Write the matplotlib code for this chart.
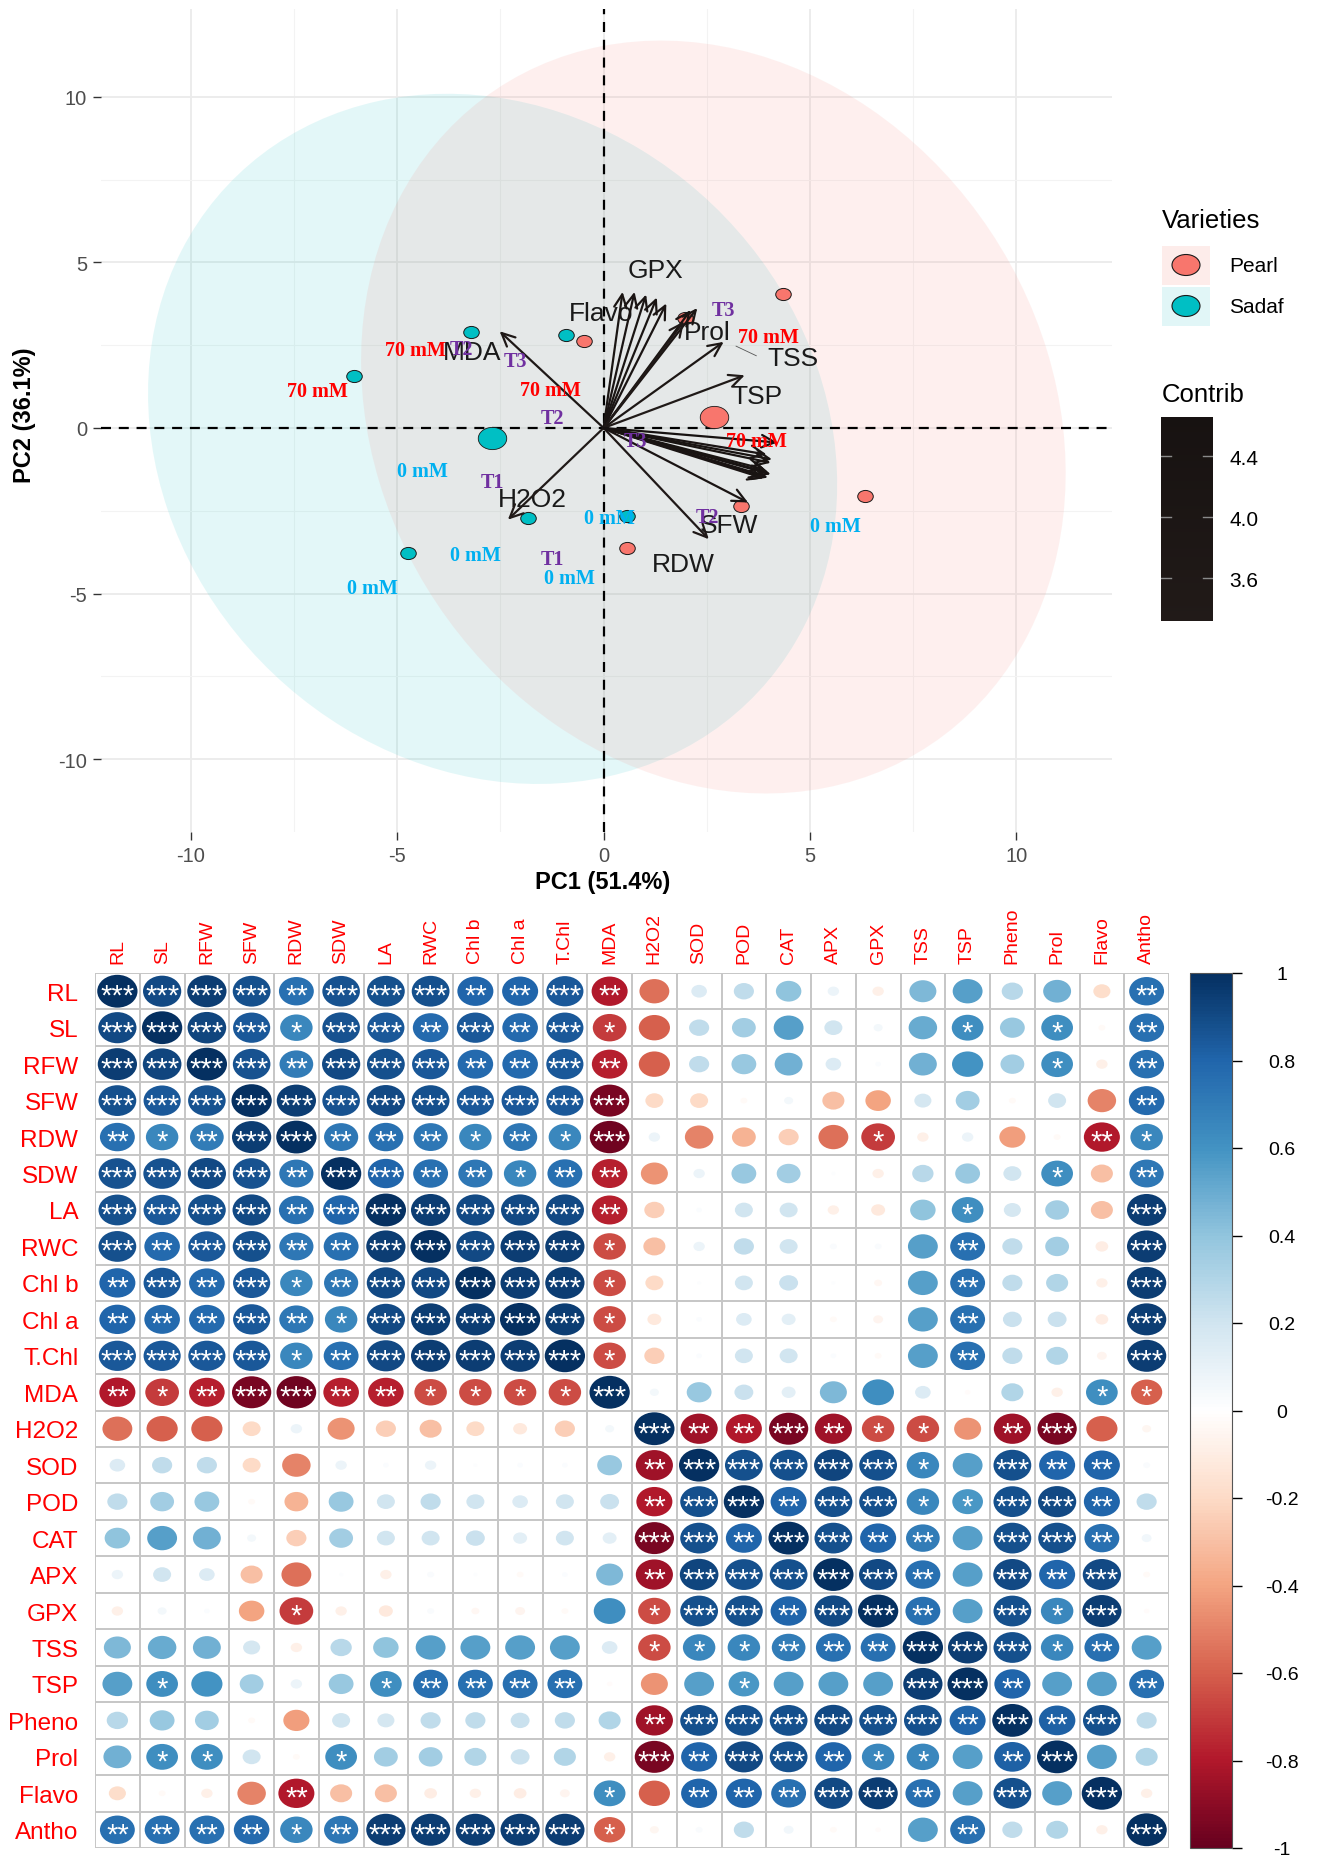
import numpy as np
import matplotlib
matplotlib.use('Agg')
import matplotlib.pyplot as plt
from matplotlib.patches import Ellipse, Rectangle
from matplotlib.path import Path
from matplotlib.markers import MarkerStyle
from matplotlib.colors import LinearSegmentedColormap, Normalize
from matplotlib.cm import ScalarMappable
import matplotlib.transforms as mtransforms

plt.rcParams['font.family'] = ['Liberation Sans', 'DejaVu Sans']
plt.rcParams['axes.unicode_minus'] = False

W, H = 1320, 1858

# ---------------- PCA biplot data ----------------
sadaf_x = [-6.06, -3.21, -0.90, -1.83, -4.73, 0.57]
sadaf_y = [1.56, 2.89, 2.82, -2.73, -3.79, -2.65]
pearl_x = [4.35, -0.47, 1.98, 6.33, 3.32, 0.56]
pearl_y = [4.03, 2.63, 3.31, -2.06, -2.37, -3.61]

# confidence ellipses: centre x, centre y, width, height, angle
ell_sadaf = [-2.69, -0.33, 16.32, 21.14, 15.3]
ell_pearl = [2.66, 0.33, 16.66, 23.04, 13.6]

pca_vars = ["RL", "SL", "RFW", "SFW", "RDW", "SDW", "LA", "RWC", "Chl b", "Chl a",
            "T.Chl", "MDA", "H2O2", "SOD", "POD", "CAT", "APX", "GPX", "TSS", "TSP",
            "Pheno", "Prol", "Flavo", "Antho"]
load_x = [4.05, 3.95, 4.08, 3.50, 2.55, 3.90, 4.05, 3.98, 3.88, 3.92,
          4.00, -2.52, -2.32, 1.29, 1.52, 1.03, 0.75, 0.46, 2.91, 3.42,
          2.11, 2.27, 1.95, 4.21]
load_y = [-1.05, -0.80, -0.95, -2.25, -3.36, -1.25, -1.40, -1.50, -1.52, -1.45,
          -1.35, 2.92, -2.77, 3.94, 3.76, 4.03, 4.11, 4.11, 2.60, 1.59,
          3.56, 3.62, 3.22, -0.44]
contrib = [4.4, 4.1, 4.4, 4.3, 3.6, 4.2, 4.5, 4.5, 4.3, 4.3,
           4.4, 3.7, 3.3, 4.2, 4.3, 4.2, 4.3, 4.2, 3.9, 3.4,
           4.4, 4.0, 3.5, 4.6]

var_lab = ['GPX', 'Flavo', 'Prol', 'TSS', 'TSP', 'MDA', 'H2O2', 'SFW', 'RDW']
var_lab_x = [1.26, -0.07, 2.52, 4.58, 3.72, -3.18, -1.73, 3.04, 1.93]
var_lab_y = [4.77, 3.46, 2.91, 2.10, 0.95, 2.28, -2.15, -2.92, -4.11]

red_x = [-6.94, -4.57, -1.29, 3.99, 3.70]
red_y = [1.11, 2.35, 1.14, 2.75, -0.40]
blue_x = [-4.40, -3.11, -5.60, -0.83, 0.15, 5.63]
blue_y = [-1.31, -3.83, -4.83, -4.53, -2.73, -2.95]
trt_lab = ['T2', 'T3', 'T2', 'T1', 'T1', 'T3', 'T3', 'T2']
trt_x = [-3.45, -2.14, -1.24, -2.70, -1.23, 0.77, 2.90, 2.52]
trt_y = [2.38, 2.01, 0.29, -1.64, -3.96, -0.40, 3.56, -2.70]

# ---------------- correlation data ----------------
corr_vars = ["RL", "SL", "RFW", "SFW", "RDW", "SDW", "LA", "RWC", "Chl b", "Chl a",
             "T.Chl", "MDA", "H2O2", "SOD", "POD", "CAT", "APX", "GPX", "TSS", "TSP",
             "Pheno", "Prol", "Flavo", "Antho"]
corr_lower = [
    [.90],
    [.95, .92],
    [.88, .85, .87],
    [.75, .65, .70, .95],
    [.87, .87, .90, .87, .72],
    [.88, .85, .88, .90, .75, .80],
    [.88, .78, .85, .88, .72, .75, .95],
    [.80, .85, .78, .85, .65, .72, .90, .90],
    [.80, .78, .78, .85, .72, .65, .90, .95, .95],
    [.85, .85, .85, .85, .65, .75, .90, .95, .95, .95],
    [-.80, -.70, -.78, -.95, -.97, -.78, -.78, -.65, -.65, -.65, -.65],
    [-.55, -.60, -.60, -.20, .08, -.45, -.25, -.30, -.20, -.12, -.25, .05],
    [.15, .25, .25, -.20, -.50, .08, .02, .08, .01, .02, .02, .38, -.85],
    [.25, .35, .38, -.03, -.35, .38, .20, .25, .20, .15, .20, .22, -.80, .88],
    [.40, .55, .48, .05, -.25, .35, .20, .20, .22, .12, .20, .12, -.95, .88, .80],
    [.08, .20, .15, -.30, -.55, .01, -.08, .03, .01, -.03, .02, .45, -.85, .92, .88, .88],
    [-.08, .05, .02, -.40, -.70, -.08, -.12, .03, -.04, -.06, -.03, .62, -.65, .88, .88, .80, .90],
    [.45, .50, .48, .18, -.08, .28, .40, .55, .55, .55, .55, .15, -.65, .65, .65, .70, .75, .75],
    [.55, .62, .60, .35, .08, .38, .62, .75, .75, .75, .75, -.02, -.45, .55, .58, .55, .55, .55, .95],
    [.28, .38, .35, -.03, -.42, .20, .18, .25, .25, .22, .25, .30, -.85, .88, .88, .88, .90, .88, .88, .80],
    [.48, .62, .62, .20, -.03, .62, .35, .35, .30, .22, .30, -.08, -.95, .80, .90, .88, .80, .65, .65, .55, .82],
    [-.18, -.03, -.08, -.50, -.80, -.30, -.30, -.10, -.08, -.10, -.06, .62, -.60, .80, .80, .75, .90, .95, .75, .55, .88, .55],
    [.75, .75, .75, .78, .65, .72, .95, .95, .95, .95, .95, -.60, -.05, .03, .25, .06, -.03, -.02, .55, .75, .25, .30, -.08],
]
stars_lower = [
    [3],
    [3, 3],
    [3, 3, 3],
    [2, 1, 2, 3],
    [3, 3, 3, 3, 2],
    [3, 3, 3, 3, 2, 3],
    [3, 2, 3, 3, 2, 2, 3],
    [2, 3, 2, 3, 1, 2, 3, 3],
    [2, 2, 2, 3, 2, 1, 3, 3, 3],
    [3, 3, 3, 3, 1, 2, 3, 3, 3, 3],
    [2, 1, 2, 3, 3, 2, 2, 1, 1, 1, 1],
    [0, 0, 0, 0, 0, 0, 0, 0, 0, 0, 0, 0],
    [0, 0, 0, 0, 0, 0, 0, 0, 0, 0, 0, 0, 2],
    [0, 0, 0, 0, 0, 0, 0, 0, 0, 0, 0, 0, 2, 3],
    [0, 0, 0, 0, 0, 0, 0, 0, 0, 0, 0, 0, 3, 3, 2],
    [0, 0, 0, 0, 0, 0, 0, 0, 0, 0, 0, 0, 2, 3, 3, 3],
    [0, 0, 0, 0, 1, 0, 0, 0, 0, 0, 0, 0, 1, 3, 3, 2, 3],
    [0, 0, 0, 0, 0, 0, 0, 0, 0, 0, 0, 0, 1, 1, 1, 2, 2, 2],
    [0, 1, 0, 0, 0, 0, 1, 2, 2, 2, 2, 0, 0, 0, 1, 0, 0, 0, 3],
    [0, 0, 0, 0, 0, 0, 0, 0, 0, 0, 0, 0, 2, 3, 3, 3, 3, 3, 3, 2],
    [0, 1, 1, 0, 0, 1, 0, 0, 0, 0, 0, 0, 3, 2, 3, 3, 2, 1, 1, 0, 2],
    [0, 0, 0, 0, 2, 0, 0, 0, 0, 0, 0, 1, 0, 2, 2, 2, 3, 3, 2, 0, 3, 0],
    [2, 2, 2, 2, 1, 2, 3, 3, 3, 3, 3, 1, 0, 0, 0, 0, 0, 0, 0, 2, 0, 0, 0],
]
cbar_ticks = [-1, -0.8, -0.6, -0.4, -0.2, 0, 0.2, 0.4, 0.6, 0.8, 1]
cbar_labels = ['-1', '-0.8', '-0.6', '-0.4', '-0.2', '0', '0.2', '0.4', '0.6', '0.8', '1']

# ---------------- figure ----------------
fig = plt.figure(figsize=(W / 100, H / 100), dpi=100)

def px_axes(x0, y0, x1, y1):
    return fig.add_axes([x0 / W, 1 - y1 / H, (x1 - x0) / W, (y1 - y0) / H])

# ---- biplot ----
ax = px_axes(101, 10, 1112, 833)
ax.set_xlim(-12.18, 12.32)
ax.set_ylim(-12.2, 12.65)
ax.set_xticks([-10, -5, 0, 5, 10])
ax.set_yticks([-10, -5, 0, 5, 10])
ax.set_xticks([-7.5, -2.5, 2.5, 7.5], minor=True)
ax.set_yticks([-7.5, -2.5, 2.5, 7.5], minor=True)
ax.grid(which='major', color='#EBEBEB', lw=1.3)
ax.grid(which='minor', color='#F3F3F3', lw=0.8)
ax.set_axisbelow(True)
for s in ax.spines.values():
    s.set_visible(False)
ax.tick_params(which='major', length=6, width=1.0, color='#333333',
               labelcolor='#4D4D4D', labelsize=14.5, pad=4)
ax.tick_params(which='minor', length=0)

for e, col in [(ell_sadaf, '#00BFC4'), (ell_pearl, '#F8766D')]:
    ax.add_patch(Ellipse((e[0], e[1]), e[2], e[3], angle=e[4],
                         facecolor=col, alpha=0.11, edgecolor='none', zorder=1))

ax.axhline(0, color='black', lw=1.6, ls=(0, (4.5, 3.5)), zorder=2)
ax.axvline(0, color='black', lw=1.6, ls=(0, (4.5, 3.5)), zorder=2)

circ = Path.unit_circle()
oval = MarkerStyle(Path(circ.vertices * np.array([1.28, 1.0]), circ.codes))
ax.scatter(sadaf_x, sadaf_y, s=125, marker=oval, c='#00BFC4', edgecolors='#1a1a1a',
           linewidths=0.7, zorder=3)
ax.scatter(pearl_x, pearl_y, s=125, marker=oval, c='#F8766D', edgecolors='#1a1a1a',
           linewidths=0.7, zorder=3)
ax.scatter([np.mean(sadaf_x)], [np.mean(sadaf_y)], s=420, marker=oval, c='#00BFC4',
           edgecolors='#1a1a1a', linewidths=0.6, zorder=3)
ax.scatter([np.mean(pearl_x)], [np.mean(pearl_y)], s=420, marker=oval, c='#F8766D',
           edgecolors='#1a1a1a', linewidths=0.6, zorder=3)

contrib_cmap = LinearSegmentedColormap.from_list('contrib', ['#211a18', '#171211'])
cnorm = Normalize(3.318, 4.656)

for name, lx, ly in zip(var_lab, var_lab_x, var_lab_y):
    ax.text(lx, ly, name, fontsize=19, color='#1a1a1a', ha='center', va='center', zorder=3.5)
ax.plot([3.21, 3.70], [2.47, 2.18], color='#555555', lw=0.6, zorder=3.5)

for vx, vy, c in zip(load_x, load_y, contrib):
    ax.annotate('', xy=(vx, vy), xytext=(0, 0),
                arrowprops=dict(arrowstyle='->,head_length=0.95,head_width=0.45',
                                color=contrib_cmap(cnorm(c)), lw=1.6,
                                shrinkA=0, shrinkB=0), zorder=4)

serif = ['Liberation Serif', 'DejaVu Serif']
for x, y in zip(red_x, red_y):
    ax.text(x, y, '70 mM', color='#FF0000', fontsize=14.5, fontweight='bold',
            family=serif, ha='center', va='center', zorder=6)
for x, y in zip(blue_x, blue_y):
    ax.text(x, y, '0 mM', color='#00B0F0', fontsize=14.5, fontweight='bold',
            family=serif, ha='center', va='center', zorder=6)
for t, x, y in zip(trt_lab, trt_x, trt_y):
    ax.text(x, y, t, color='#7030A0', fontsize=14.5, fontweight='bold',
            family=serif, ha='center', va='center', zorder=6)

fig.text(603 / W, 1 - 883 / H, 'PC1 (51.4%)', ha='center', va='center',
         fontsize=17, fontweight='bold')
fig.text(24 / W, 1 - 415 / H, 'PC2 (36.1%)', ha='center', va='center',
         fontsize=17, fontweight='bold', rotation=90)

# ---- legend (pixel coordinates) ----
lg = px_axes(0, 0, W, H)
lg.set_xlim(0, W)
lg.set_ylim(H, 0)
lg.axis('off')
lg.text(1162, 221, 'Varieties', fontsize=18.5, ha='left', va='center')
for name, yc, bg, col in [('Pearl', 266, '#FDECEA', '#F8766D'), ('Sadaf', 307, '#E1F6F7', '#00BFC4')]:
    lg.add_patch(Rectangle((1162, yc - 19.5), 48, 39, facecolor=bg, edgecolor='none'))
    lg.add_patch(Ellipse((1186, yc), 28, 21, facecolor=col, edgecolor='#1a1a1a', lw=0.8))
    lg.text(1229, yc, name, fontsize=15, ha='left', va='center')
lg.text(1162, 395, 'Contrib', fontsize=18.5, ha='left', va='center')

cax = px_axes(1161, 418, 1213, 622)
cb = fig.colorbar(ScalarMappable(norm=cnorm, cmap=contrib_cmap), cax=cax)
cb.outline.set_visible(False)
cb.set_ticks([3.6, 4.0, 4.4])
cb.set_ticklabels(['3.6', '4.0', '4.4'])
cax.tick_params(length=0, labelsize=15, pad=12)
for t in [3.6, 4.0, 4.4]:
    cax.plot([0, 0.2], [t, t], color='#8a8a8a', lw=1, transform=cax.get_yaxis_transform())
    cax.plot([0.8, 1], [t, t], color='#8a8a8a', lw=1, transform=cax.get_yaxis_transform())

# ---- correlation plot ----
n = len(corr_vars)
R = np.eye(n)
S = np.full((n, n), 3, dtype=int)
for i in range(1, n):
    R[i, :i] = corr_lower[i - 1]
    R[:i, i] = corr_lower[i - 1]
    S[i, :i] = stars_lower[i - 1]
    S[:i, i] = stars_lower[i - 1]

rdbu = LinearSegmentedColormap.from_list('rdbu', ['#67001F', '#B2182B', '#D6604D', '#F4A582', '#FDDBC7',
                                                  '#FFFFFF', '#D1E5F0', '#92C5DE', '#4393C3', '#2166AC',
                                                  '#053061'])
rnorm = Normalize(-1, 1)

ax2 = px_axes(95, 974, 1169, 1849)
ax2.set_xlim(0, n)
ax2.set_ylim(n, 0)
for s in ax2.spines.values():
    s.set_visible(False)
ax2.hlines(np.arange(n + 1), 0, n, color='#C6C6C6', lw=1.4, zorder=1)
ax2.vlines(np.arange(n + 1), 0, n, color='#C6C6C6', lw=1.4, zorder=1)

star_fs = 21
star_tr = mtransforms.offset_copy(ax2.transData, fig=fig, x=0, y=-0.43 * star_fs, units='points')
for i in range(n):
    for j in range(n):
        r = R[i, j]
        d = 0.9 * np.sqrt(abs(r))
        ax2.add_patch(Ellipse((j + 0.5, i + 0.5), d, d, facecolor=rdbu(rnorm(r)),
                              edgecolor='none', zorder=2))
        if S[i, j] > 0:
            ax2.text(j + 0.5, i + 0.5, '*' * S[i, j], color='white', fontsize=star_fs,
                     ha='center', va='baseline', transform=star_tr, zorder=3)

ax2.xaxis.tick_top()
ax2.set_xticks(np.arange(n) + 0.5)
ax2.set_xticklabels(corr_vars, rotation=90, color='#FF0000', fontsize=14)
ax2.set_yticks(np.arange(n) + 0.5)
ax2.set_yticklabels(corr_vars, color='#FF0000', fontsize=17.5)
ax2.tick_params(axis='x', length=0, pad=7)
ax2.tick_params(axis='y', length=0, pad=12)

cax2 = px_axes(1190, 974, 1232, 1849)
cb2 = fig.colorbar(ScalarMappable(norm=rnorm, cmap=rdbu), cax=cax2)
cb2.outline.set_edgecolor('#555555')
cb2.outline.set_linewidth(0.8)
cb2.set_ticks(cbar_ticks)
cb2.set_ticklabels(cbar_labels)
cax2.tick_params(length=7, width=1, labelsize=14, pad=29)
for lab in cax2.get_yticklabels():
    lab.set_horizontalalignment('center')

fig.savefig('out.png', dpi=100)
